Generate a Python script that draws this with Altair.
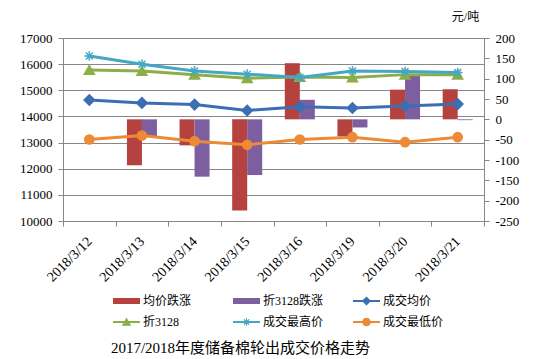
import altair as alt
import pandas as pd

# ---- data ----
dates = ["2018/3/12", "2018/3/13", "2018/3/14", "2018/3/15",
         "2018/3/16", "2018/3/19", "2018/3/20", "2018/3/21"]
avg_change = [0, -113, -64, -224, 138, -42, 73, 74]          # 均价跌涨
c3128_change = [0, -41, -141, -137, 48, -20, 110, -2]        # 折3128跌涨
avg_price = [14630, 14517, 14453, 14229, 14367, 14325, 14398, 14472]   # 成交均价
c3128_price = [15780, 15739, 15598, 15461, 15509, 15489, 15599, 15597]  # 折3128
high_price = [16312, 15996, 15741, 15616, 15487, 15741, 15715, 15677]   # 成交最高价
low_price = [13118, 13270, 13053, 12916, 13118, 13205, 13015, 13205]    # 成交最低价

bar_series = ["均价跌涨", "折3128跌涨"]
line_series = ["成交均价", "折3128", "成交最高价", "成交最低价"]
all_series = bar_series + line_series
colors = ["#B5423E", "#7D5FA0", "#3C6EB4", "#8CAE48", "#44A7C4", "#EC8A36"]
ASTER = "M-1,0H1M0,-1V1M-0.72,-0.72L0.72,0.72M-0.72,0.72L0.72,-0.72"
shapes = ["diamond", "triangle-up", ASTER, "circle"]
sizes = [110, 85, 150, 105]

legend_series = ["均价跌涨", "折3128跌涨", "成交均价", "折3128", "成交最高价", "成交最低价"]
legend_col = [0, 1, 2, 0, 1, 2]
legend_row = [0, 0, 0, 1, 1, 1]
legend_kind = ["bar", "bar", "line", "line", "line", "line"]

title_text = "2017/2018年度储备棉轮出成交价格走势"
unit_text = "元/吨"

FONT = "'Liberation Serif', 'Times New Roman', 'Noto Sans CJK SC', serif"
GRAY = "#878787"

bars_df = pd.DataFrame({
    "date": dates * 2,
    "series": [bar_series[0]] * 8 + [bar_series[1]] * 8,
    "value": avg_change + c3128_change,
})
lines_df = pd.DataFrame({
    "date": dates * 4,
    "series": sum([[s] * 8 for s in line_series], []),
    "value": avg_price + c3128_price + high_price + low_price,
})
legend_df = pd.DataFrame({
    "series": legend_series, "col": legend_col,
    "row": legend_row, "kind": legend_kind,
})

color_scale = alt.Scale(domain=all_series, range=colors)
shape_scale = alt.Scale(domain=line_series, range=shapes)
x_scale = alt.Scale(domain=dates, paddingInner=0, paddingOuter=0)

x_axis = alt.Axis(title=None, tickBand="extent", labelAngle=-45, labelAlign="right",
                  labelBaseline="middle", tickSize=5, labelPadding=13, labelOverlap=False,
                  domainColor=GRAY, tickColor=GRAY, labelFont=FONT, labelFontSize=14,
                  labelColor="black", grid=False)
left_axis = alt.Axis(orient="left", values=list(range(10000, 17001, 1000)), format="d",
                     labelOverlap=False, grid=True, gridColor=GRAY, gridWidth=1,
                     domainColor=GRAY, tickColor=GRAY, tickSize=5, labelPadding=6,
                     labelFont=FONT, labelFontSize=13, labelColor="black", title=None)
right_axis = alt.Axis(orient="right", values=list(range(-250, 201, 50)), labelOverlap=False,
                      labelExpr="datum.value < 0 ? '-' + abs(datum.value) : '' + datum.value",
                      grid=False, domainColor=GRAY, tickColor=GRAY, tickSize=5,
                      labelPadding=6, labelFont=FONT, labelFontSize=13, labelColor="black",
                      title=unit_text, titleAngle=0, titleX=-19, titleY=-22,
                      titleAlign="center", titleBaseline="middle", titleFont=FONT,
                      titleFontSize=12, titleFontWeight="normal", titleColor="black")
left_scale = alt.Scale(domain=[10000, 17000], nice=False, zero=False)

bars = alt.Chart(bars_df).mark_bar().encode(
    x=alt.X("date:N", scale=x_scale, axis=None),
    xOffset=alt.XOffset("series:N", scale=alt.Scale(domain=bar_series, paddingInner=0, paddingOuter=0.754)),
    y=alt.Y("value:Q", scale=alt.Scale(domain=[-250, 200], nice=False, zero=True), axis=right_axis),
    y2=alt.datum(0),
    color=alt.Color("series:N", scale=color_scale, legend=None),
)

line = alt.Chart(lines_df).mark_line(strokeWidth=3).encode(
    x=alt.X("date:N", scale=x_scale, sort=dates, axis=x_axis),
    y=alt.Y("value:Q", scale=left_scale, axis=left_axis),
    color=alt.Color("series:N", scale=color_scale, legend=None),
)
pts = alt.Chart(lines_df).mark_point(filled=True, opacity=1, strokeWidth=1.5).encode(
    x=alt.X("date:N", scale=x_scale, sort=dates, axis=x_axis),
    y=alt.Y("value:Q", scale=left_scale, axis=left_axis),
    shape=alt.Shape("series:N", scale=shape_scale, legend=None),
    fill=alt.Fill("series:N", scale=color_scale, legend=None),
    stroke=alt.Stroke("series:N", scale=color_scale, legend=None),
    size=alt.Size("series:N", scale=alt.Scale(domain=line_series, range=sizes), legend=None),
)
lines_layer = alt.layer(line, pts)

leg_x = alt.Scale(domain=[0, 3], range=[50, 410])
leg_y = alt.Scale(domain=[0, 1], range=[263, 284])
leg_rule = alt.Chart(legend_df).transform_calculate(
    x_end="datum.col + 27/120"
).mark_rule().encode(
    x=alt.X("col:Q", scale=leg_x, axis=None),
    x2="x_end:Q",
    y=alt.Y("row:Q", scale=leg_y, axis=None),
    color=alt.Color("series:N", scale=color_scale, legend=None),
    strokeWidth=alt.StrokeWidth("kind:N", scale=alt.Scale(domain=["bar", "line"], range=[6, 2]), legend=None),
)
leg_pts = alt.Chart(legend_df).transform_filter(
    "datum.kind == 'line'"
).transform_calculate(
    x_mid="datum.col + 13.5/120"
).mark_point(filled=True, opacity=1, strokeWidth=1.2, size=55).encode(
    x=alt.X("x_mid:Q", scale=leg_x, axis=None),
    y=alt.Y("row:Q", scale=leg_y, axis=None),
    shape=alt.Shape("series:N", scale=shape_scale, legend=None),
    fill=alt.Fill("series:N", scale=color_scale, legend=None),
    stroke=alt.Stroke("series:N", scale=color_scale, legend=None),
)
leg_text = alt.Chart(legend_df).mark_text(
    align="left", baseline="middle", dx=30, font=FONT, fontSize=12, color="black"
).encode(
    x=alt.X("col:Q", scale=leg_x, axis=None),
    y=alt.Y("row:Q", scale=leg_y, axis=None),
    text="series:N",
)
legend_layer = alt.layer(leg_rule, leg_pts, leg_text)

chart = alt.layer(bars, lines_layer, legend_layer).resolve_scale(
    x="independent", y="independent"
).properties(
    width=421, height=183,
    autosize=alt.AutoSizeParams(type="none"),
    padding={"left": 55, "top": 30, "right": 41, "bottom": 137},
    title=alt.TitleParams(text=title_text, orient="bottom", frame="group", anchor="middle",
                          dx=-33, offset=13, font=FONT, fontSize=15, fontWeight="normal",
                          color="black"),
).configure_view(stroke=None).configure(background="white")

chart.save("out.html", embed_options={"renderer": "svg", "actions": False})
